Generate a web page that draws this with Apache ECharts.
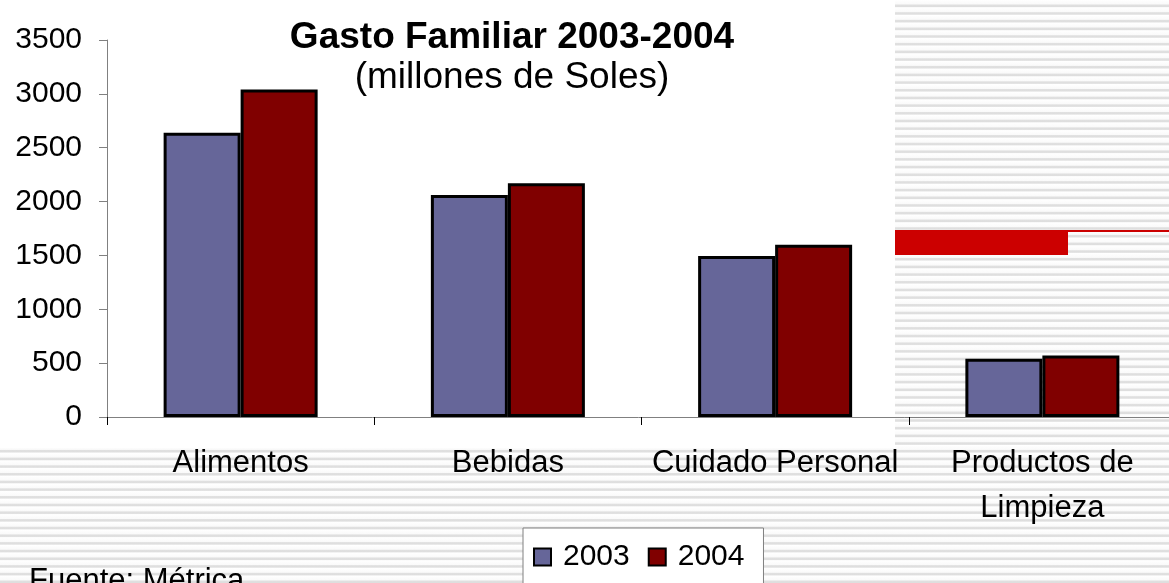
<!DOCTYPE html>
<html>
<head>
<meta charset="utf-8">
<script src="https://cdn.jsdelivr.net/npm/echarts@6/dist/echarts.min.js"></script>
<style>
  html, body { margin: 0; padding: 0; }
  #wrap {
    position: relative; width: 1169px; height: 583px; overflow: hidden;
    background: repeating-linear-gradient(to bottom, #ffffff 0px, #fafafa 4px, #e0e0e0 5px, #dedede 6.5px, #ffffff 7.68px);
  }
  #white { position: absolute; left: 0; top: 0; width: 895px; height: 448px; background: #fff; }
  #redline { position: absolute; left: 895px; top: 230px; width: 274px; height: 2px; background: #cc0000; }
  #redbar { position: absolute; left: 895px; top: 231px; width: 173px; height: 24px; background: #cc0000; }
  #chart { position: absolute; left: 0; top: 0; width: 1169px; height: 583px; }
</style>
</head>
<body>
<div id="wrap">
  <div id="white"></div>
  <div id="redline"></div>
  <div id="redbar"></div>
  <div id="chart"></div>
</div>
<script>
const categories = ["Alimentos", "Bebidas", "Cuidado Personal", "Productos de Limpieza"];
const gasto2003 = [2640, 2060, 1495, 540];
const gasto2004 = [3040, 2170, 1600, 570];
const yTicks = { min: 0, max: 3500, step: 500 };

const font = "Liberation Sans, Arial, sans-serif";

{
  const myChart = echarts.init(document.getElementById("chart"));
  const option = {
    backgroundColor: "transparent",
    animation: false,
    title: {
      text: "Gasto Familiar 2003-2004",
      subtext: "(millones de Soles)",
      left: 507,
      top: 14,
      textAlign: "center",
      itemGap: 3,
      textStyle: { fontFamily: font, fontSize: 37, fontWeight: "bold", color: "#000" },
      subtextStyle: { fontFamily: font, fontSize: 37, color: "#000" },
    },
    legend: {
      data: ["2003", "2004"],
      left: 523,
      top: 528,
      padding: [14, 19, 40, 10],
      backgroundColor: "#fff",
      borderColor: "#808080",
      borderWidth: 1,
      itemWidth: 17,
      itemHeight: 17,
      itemGap: 18,
      icon: "rect",
      textStyle: { fontFamily: font, fontSize: 30, color: "#000", padding: [0, 0, 0, 7] },
    },
    grid: { left: 107, top: 40, bottom: 166, width: 1069, outerBoundsMode: "none" },
    xAxis: {
      type: "category",
      data: categories,
      axisLine: { lineStyle: { color: "#808080", width: 1 } },
      axisTick: { show: true, length: 8, inside: false, lineStyle: { color: "#000" } },
      axisLabel: {
        interval: 0,
        margin: 24,
        fontFamily: font,
        fontSize: 31,
        color: "#000",
        lineHeight: 45,
        formatter: (v) => v.replace("de ", "de\n"),
      },
    },
    yAxis: {
      type: "value",
      min: yTicks.min,
      max: yTicks.max,
      interval: yTicks.step,
      axisLine: { show: true, lineStyle: { color: "#808080", width: 1 } },
      axisTick: { show: true, length: 8, lineStyle: { color: "#808080" } },
      splitLine: { show: false },
      axisLabel: {
        margin: 25,
        fontFamily: font,
        fontSize: 30,
        color: "#000",
        formatter: (v) => String(v),
      },
    },
    series: [
      {
        name: "2003",
        type: "bar",
        data: gasto2003,
        barWidth: 77,
        barGap: "0%",
        itemStyle: { color: "#666699", borderColor: "#000", borderWidth: 3 },
      },
      {
        name: "2004",
        type: "bar",
        data: gasto2004,
        barWidth: 77,
        barGap: "0%",
        itemStyle: { color: "#800000", borderColor: "#000", borderWidth: 3 },
      },
    ],
    graphic: [
      {
        type: "text",
        left: 29,
        top: 566,
        style: { text: "Fuente: Métrica", fontFamily: font, fontSize: 31, fill: "#000" },
      },
    ],
  };
  myChart.setOption(option, true);
}
</script>
</body>
</html>
